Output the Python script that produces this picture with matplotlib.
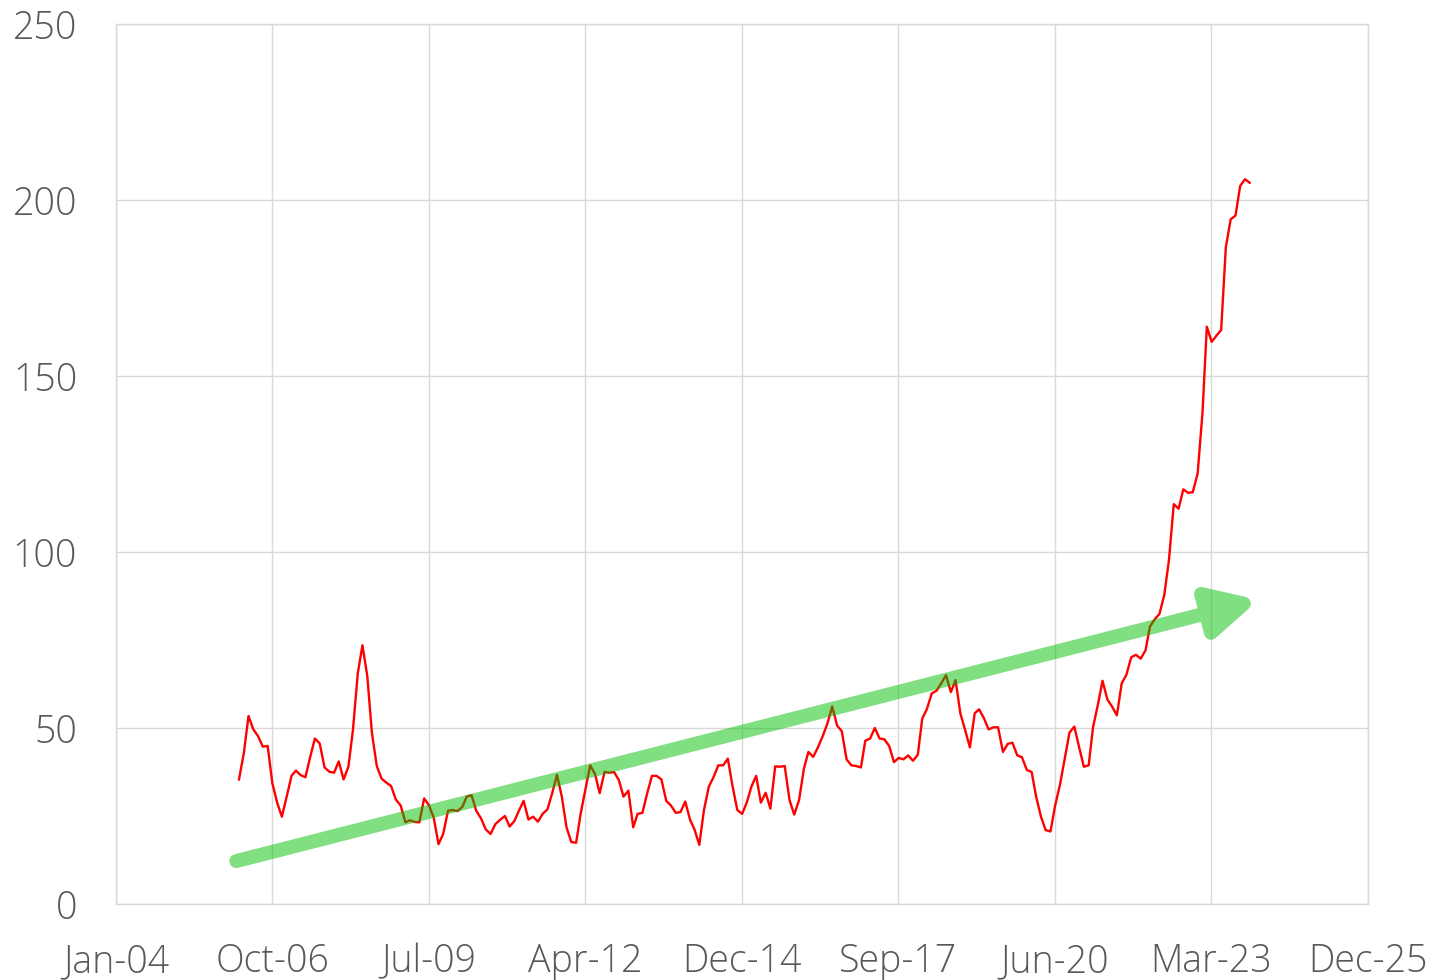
import numpy as np
import pandas as pd
import matplotlib
matplotlib.use("Agg")
import matplotlib.pyplot as plt
import matplotlib.dates as mdates
from matplotlib.path import Path
from matplotlib.patches import PathPatch
from matplotlib.transforms import IdentityTransform
from datetime import datetime

# monthly series, Mar 2006 .. Dec 2023
dates = pd.date_range("2006-03-01", periods=214, freq="MS")
values = [
    35.4, 42.8, 53.4, 49.6, 47.7, 44.7, 44.9, 34.3, 28.8, 24.8,
    30.5, 36.4, 37.9, 36.6, 36.0, 41.8, 47.0, 45.6, 38.8, 37.6,
    37.3, 40.5, 35.4, 39.0, 49.4, 65.5, 73.5, 64.8, 48.5, 39.2,
    35.6, 34.5, 33.5, 29.7, 28.0, 23.2, 23.8, 23.3, 23.2, 30.0,
    28.1, 24.6, 17.0, 19.9, 26.5, 26.7, 26.4, 27.6, 30.5, 30.9,
    26.5, 24.3, 21.2, 19.9, 22.7, 23.9, 25.0, 22.0, 23.6, 26.7,
    29.3, 24.0, 24.8, 23.4, 25.6, 26.9, 31.6, 36.7, 30.5, 21.8,
    17.6, 17.4, 25.7, 32.6, 39.4, 36.9, 31.5, 37.5, 37.3, 37.5,
    35.2, 30.5, 32.2, 21.8, 25.6, 25.9, 31.3, 36.4, 36.4, 35.4,
    29.3, 28.0, 25.9, 26.1, 29.1, 23.9, 21.2, 16.8, 26.7, 33.3,
    36.0, 39.4, 39.4, 41.3, 33.3, 26.7, 25.6, 29.0, 33.3, 36.4,
    28.8, 31.6, 27.1, 39.1, 39.0, 39.2, 29.5, 25.4, 29.5, 38.4,
    43.2, 41.8, 44.5, 47.7, 51.3, 56.1, 50.7, 49.1, 41.1, 39.4,
    39.2, 38.8, 46.4, 47.0, 50.0, 47.0, 46.8, 44.9, 40.3, 41.5,
    41.1, 42.2, 40.7, 42.4, 52.6, 55.5, 59.8, 60.6, 62.7, 65.0,
    60.2, 63.6, 54.1, 49.5, 44.5, 54.2, 55.3, 52.8, 49.6, 50.2,
    50.2, 43.2, 45.5, 45.8, 42.2, 41.7, 38.1, 37.5, 30.5, 24.8,
    21.0, 20.6, 28.0, 33.9, 41.5, 48.7, 50.4, 44.7, 39.0, 39.4,
    50.2, 56.6, 63.4, 58.1, 56.1, 53.6, 62.7, 65.1, 70.1, 70.8,
    69.7, 72.1, 78.8, 80.9, 82.4, 87.8, 97.7, 113.6, 112.3, 117.8,
    116.8, 117.0, 122.3, 139.4, 164.0, 159.7, 161.4, 163.1, 186.6, 194.5,
    195.6, 204.0, 205.9, 204.9,
]

y_ticks = [0, 50, 100, 150, 200, 250]
x_start = datetime(2004, 1, 2)
x_step_days = 1004  # date axis major unit
n_x_ticks = 9

# trend arrow (annotation): tail and tip in data coords
arrow_tail = (datetime(2006, 2, 12), 12.2)
arrow_tip = (datetime(2023, 12, 7), 85.8)

TEXT = "#595959"
GRID = "#d9d9d9"

plt.rcParams["font.family"] = ["Open Sans", "DejaVu Sans"]

fig = plt.figure(figsize=(14.35, 9.8), dpi=100)
ax = fig.add_axes([116 / 1435, 1 - 904 / 980, (1368 - 116) / 1435, (904 - 24) / 980])

ax.plot(dates, values, color="#ff0000", linewidth=1.7, zorder=3)

x0 = mdates.date2num(x_start)
x_ticks = x0 + x_step_days * np.arange(n_x_ticks)
ax.set_xlim(x_ticks[0], x_ticks[-1])
ax.set_ylim(0, 250)
ax.set_xticks(x_ticks)
ax.xaxis.set_major_formatter(mdates.DateFormatter("%b-%y"))
ax.set_yticks(y_ticks)

ax.grid(True, color=GRID, linewidth=1.0)
ax.set_axisbelow(True)
for sp in ax.spines.values():
    sp.set_color(GRID)
    sp.set_linewidth(1.0)
ax.tick_params(length=0, pad=28, labelsize=27, labelcolor=TEXT)
for lab in ax.get_xticklabels() + ax.get_yticklabels():
    lab.set_fontweight("light")


def half_alpha(im, dpi):
    im = im.copy()
    im[..., 3] *= 0.5
    return im, 0, 0


def draw_arrow(ax, tail, tip):
    p0 = ax.transData.transform((mdates.date2num(tail[0]), tail[1]))
    p1 = ax.transData.transform((mdates.date2num(tip[0]), tip[1]))
    d = p1 - p0
    length = np.hypot(*d)
    u = d / length
    n = np.array([-u[1], u[0]])
    stroke = 14  # px
    tip_in = p0 + u * (length - 7)
    base = p0 + u * (length - 46)
    c1 = base + n * 20
    c2 = base - n * 20
    verts = [p0, base, c1, tip_in, c2, c1]
    codes = [Path.MOVETO, Path.LINETO, Path.MOVETO, Path.LINETO, Path.LINETO, Path.CLOSEPOLY]
    patch = PathPatch(Path(verts, codes), facecolor=(0, 0.75, 0), edgecolor=(0, 0.75, 0),
                      linewidth=stroke * 72 / fig.dpi, joinstyle="round", capstyle="round",
                      transform=IdentityTransform(), zorder=4)
    patch.set_agg_filter(half_alpha)
    fig.add_artist(patch)


draw_arrow(ax, arrow_tail, arrow_tip)

fig.savefig("out.png", dpi=100)
